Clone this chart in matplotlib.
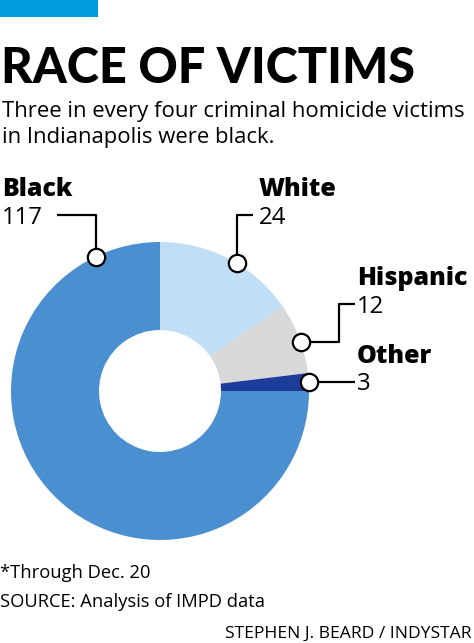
import matplotlib.pyplot as plt
import numpy as np
from matplotlib.patches import Rectangle

# data
races = ["White", "Hispanic", "Other", "Black"]
counts = [24, 12, 3, 117]
colors = ["#c0def5", "#d8d8d8", "#1e3d9a", "#4a8fcf"]

W, H = 474, 643
TITLE_FONT = "Lato"
FONT = "Open Sans"

fig = plt.figure(figsize=(W / 100, H / 100), dpi=100)
ax = fig.add_axes([0, 0, 1, 1])

cx, cy, r_out, r_in = 160, 391, 149, 61

# y axis runs downward, so counterclock in data space looks clockwise
ax.pie(
    counts,
    colors=colors,
    startangle=-90,
    counterclock=True,
    center=(cx, cy),
    radius=r_out,
    wedgeprops=dict(width=r_out - r_in, linewidth=0),
)
ax.set_xlim(0, W)
ax.set_ylim(H, 0)
ax.set_aspect("equal")
ax.axis("off")

# top accent bar
ax.add_patch(Rectangle((0, 0), 98, 17, color="#009bde", lw=0))

ax.text(1, 83, "RACE OF VICTIMS", fontsize=35, fontweight="black",
        family=TITLE_FONT, va="baseline", ha="left")
ax.text(2, 117, "Three in every four criminal homicide victims",
        fontsize=15.9, family=FONT, va="baseline")
ax.text(2, 143, "in Indianapolis were black.",
        fontsize=15.9, family=FONT, va="baseline")

# label layout: anchor angle on ring (visual degrees), leader elbows, text pos
layout = {
    "Black": dict(angle=115.5, path=[(96, 215), (57, 215)], tx=2),
    "White": dict(angle=59, path=[(238, 215), (253, 215)], tx=259),
    "Hispanic": dict(angle=19, path=[(339, None), (339, 304), (355, 304)], tx=357),
    "Other": dict(angle=3.5, path=[(355, None)], tx=357),
}
name_base = {"Black": 196, "White": 196, "Hispanic": 285, "Other": 363}
num_base = {"Black": 224, "White": 224, "Hispanic": 313, "Other": 390}

for race, n in zip(races, counts):
    lay = layout[race]
    a = np.deg2rad(lay["angle"])
    px, py = cx + r_out * np.cos(a), cy - r_out * np.sin(a)
    xs, ys = [px], [py]
    for x, y in lay["path"]:
        xs.append(x)
        ys.append(py if y is None else y)
    if race in ("Black", "White"):
        xs[1] = px
    ax.plot(xs, ys, color="black", lw=1.6, solid_capstyle="butt", zorder=3)
    ax.plot(px, py, "o", ms=12.5, mfc="white", mec="black", mew=1.6, zorder=4)
    ax.text(lay["tx"], name_base[race], race, fontsize=18, fontweight="heavy",
            family=FONT, va="baseline")
    ax.text(lay["tx"], num_base[race], str(n), fontsize=17.3, family=FONT,
            va="baseline")

ax.text(0, 578, "*Through Dec. 20", fontsize=13.2, family=FONT, va="baseline")
ax.text(0, 607, "SOURCE: Analysis of IMPD data", fontsize=13.2, family=FONT,
        va="baseline")
ax.text(472, 638, "STEPHEN J. BEARD / INDYSTAR", fontsize=12.6, family=FONT,
        va="baseline", ha="right")

fig.savefig("out.png", dpi=100, facecolor="white")
